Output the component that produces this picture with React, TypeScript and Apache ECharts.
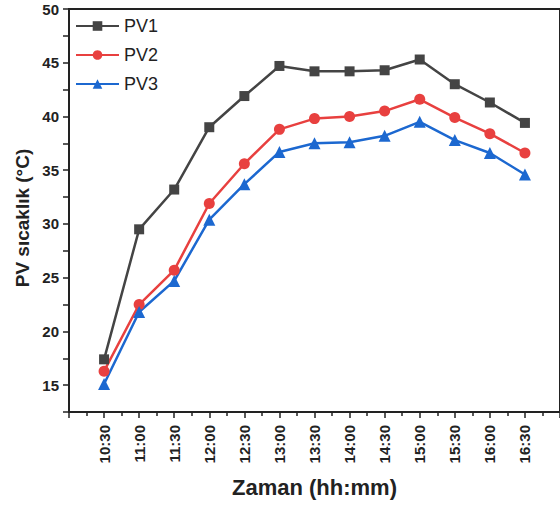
import React, { useEffect, useRef } from "react";
import * as echarts from "echarts";

const categories = ["10:30", "11:00", "11:30", "12:00", "12:30", "13:00", "13:30", "14:00", "14:30", "15:00", "15:30", "16:00", "16:30"];
const pv1 = [17.4, 29.5, 33.2, 39.0, 41.9, 44.7, 44.2, 44.2, 44.3, 45.3, 43.0, 41.3, 39.4];
const pv2 = [16.3, 22.5, 25.7, 31.9, 35.6, 38.8, 39.8, 40.0, 40.5, 41.6, 39.9, 38.4, 36.6];
const pv3 = [15.1, 21.8, 24.7, 30.4, 33.7, 36.7, 37.5, 37.6, 38.2, 39.5, 37.8, 36.6, 34.6];
const yTicks = [15, 20, 25, 30, 35, 40, 45, 50];
const yTitle = "PV sıcaklık (°C)";
const xTitle = "Zaman (hh:mm)";

const FONT = "Liberation Sans, Arial, sans-serif";

export default function App() {
  const ref = useRef<HTMLDivElement>(null);
  useEffect(() => {
    document.body.style.margin = "0";
    const chart = echarts.init(ref.current!, null, { renderer: "svg" });
    const toPairs = (arr: number[]) => arr.map((v, i) => [i, v]);
    const lineStyle = { color: "#222", width: 2 };
    chart.setOption({
      animation: false,
      backgroundColor: "#fff",
      grid: { left: 69, top: 9, width: 500, height: 403, show: true, borderColor: "#222", borderWidth: 2, backgroundColor: "transparent" },
      legend: {
        orient: "vertical",
        left: 75,
        top: 17,
        padding: 0,
        itemWidth: 43,
        itemHeight: 12,
        itemGap: 11,
        textStyle: { fontFamily: FONT, fontSize: 18, color: "#222" },
        data: ["PV1", "PV2", "PV3"],
      },
      graphic: [
        {
          type: "text",
          x: 22,
          y: 218,
          rotation: Math.PI / 2,
          style: {
            text: yTitle,
            fontFamily: FONT,
            fontSize: 19,
            fontWeight: "bold",
            fill: "#222",
            align: "center",
            verticalAlign: "middle",
          },
        },
      ],
      xAxis: {
        type: "value",
        min: -1,
        max: 13,
        interval: 1,
        splitLine: { show: false },
        axisLine: { onZero: false, lineStyle },
        axisTick: { length: 6, lineStyle: { color: "#222", width: 1.5 } },
        minorTick: { show: true, splitNumber: 2, length: 4, lineStyle: { color: "#222", width: 1.5 } },
        axisLabel: {
          rotate: 90,
          margin: 13,
          fontFamily: FONT,
          fontSize: 15,
          fontWeight: "bold",
          color: "#222",
          formatter: (v: number) => categories[v] ?? "",
        },
        name: xTitle,
        nameLocation: "middle",
        nameGap: 64,
        nameTextStyle: { fontFamily: FONT, fontSize: 22, fontWeight: "bold", color: "#222" },
      },
      yAxis: {
        type: "value",
        min: 12.5,
        max: 50,
        interval: 2.5,
        splitLine: { show: false },
        axisLine: { show: true, onZero: false, lineStyle },
        axisTick: { length: 6, lineStyle: { color: "#222", width: 1.5 } },
        axisLabel: {
          margin: 10,
          fontFamily: FONT,
          fontSize: 15,
          fontWeight: "bold",
          color: "#222",
          formatter: (v: number) => (yTicks.includes(v) ? String(v) : ""),
        },
      },
      series: [
        {
          name: "PV1",
          type: "line",
          data: toPairs(pv1),
          symbol: "rect",
          symbolSize: 10,
          color: "#444444",
          lineStyle: { width: 2.5, color: "#444444" },
          itemStyle: { color: "#444444" },
        },
        {
          name: "PV2",
          type: "line",
          data: toPairs(pv2),
          symbol: "circle",
          symbolSize: 11,
          color: "#e8403f",
          lineStyle: { width: 2.5, color: "#e8403f" },
          itemStyle: { color: "#e8403f" },
        },
        {
          name: "PV3",
          type: "line",
          data: toPairs(pv3),
          symbol: "triangle",
          symbolSize: 12,
          color: "#1c68d0",
          lineStyle: { width: 2.5, color: "#1c68d0" },
          itemStyle: { color: "#1c68d0" },
        },
      ],
    });
    return () => chart.dispose();
  }, []);
  return <div ref={ref} style={{ width: 560, height: 506 }} />;
}
